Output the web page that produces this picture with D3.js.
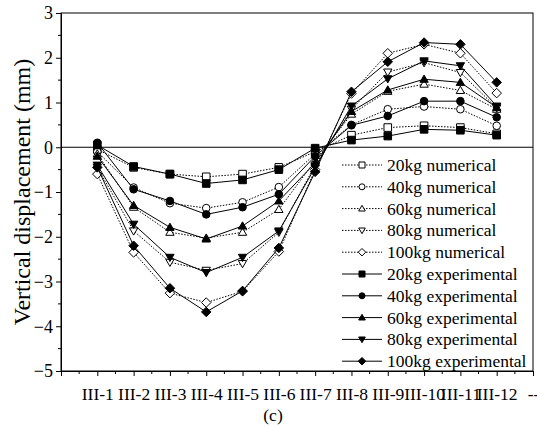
<!DOCTYPE html>
<html>
<head>
<meta charset="utf-8">
<script src="https://cdn.jsdelivr.net/npm/d3@7"></script>
<style>
  body { margin: 0; background: #fff; }
</style>
</head>
<body>
<svg id="chart" width="537" height="427"></svg>
<script>
// sensor positions along the line
var categories = ["III-1", "III-2", "III-3", "III-4", "III-5", "III-6", "III-7", "III-8", "III-9", "III-10", "III-11", "III-12", "--"];
var yTicks = [-5, -4, -3, -2, -1, 0, 1, 2, 3];

// vertical displacement (mm), one value per point III-1 .. III-12
var num20  = [-0.05, -0.45, -0.60, -0.66, -0.60, -0.45, -0.10, 0.27, 0.44, 0.48, 0.44, 0.30];
var num40  = [-0.10, -0.90, -1.25, -1.36, -1.23, -0.89, -0.15, 0.50, 0.85, 0.91, 0.85, 0.48];
var num60  = [-0.15, -1.34, -1.90, -2.03, -1.90, -1.39, -0.30, 0.74, 1.25, 1.41, 1.27, 0.85];
var num80  = [-0.45, -1.87, -2.57, -2.75, -2.60, -1.90, -0.40, 0.85, 1.68, 1.89, 1.67, 0.88];
var num100 = [-0.60, -2.35, -3.26, -3.47, -3.22, -2.33, -0.50, 1.20, 2.10, 2.30, 2.10, 1.21];
var exp20  = [0.05, -0.43, -0.60, -0.81, -0.73, -0.50, -0.02, 0.16, 0.25, 0.40, 0.38, 0.27];
var exp40  = [0.10, -0.94, -1.20, -1.50, -1.34, -1.05, -0.20, 0.49, 0.70, 1.03, 1.03, 0.67];
var exp60  = [-0.20, -1.30, -1.79, -2.05, -1.76, -1.20, -0.35, 0.80, 1.28, 1.52, 1.45, 0.89];
var exp80  = [-0.40, -1.72, -2.46, -2.80, -2.46, -1.87, -0.45, 0.92, 1.53, 1.93, 1.82, 0.92];
var exp100 = [-0.45, -2.20, -3.15, -3.68, -3.21, -2.25, -0.55, 1.24, 1.91, 2.34, 2.30, 1.45];

var series = [
    { name: "20kg numerical",     values: num20,  shape: "square",   filled: false },
    { name: "40kg numerical",     values: num40,  shape: "circle",   filled: false },
    { name: "60kg numerical",     values: num60,  shape: "triangle", filled: false },
    { name: "80kg numerical",     values: num80,  shape: "down",     filled: false },
    { name: "100kg numerical",    values: num100, shape: "diamond",  filled: false },
    { name: "20kg experimental",  values: exp20,  shape: "square",   filled: true },
    { name: "40kg experimental",  values: exp40,  shape: "circle",   filled: true },
    { name: "60kg experimental",  values: exp60,  shape: "triangle", filled: true },
    { name: "80kg experimental",  values: exp80,  shape: "down",     filled: true },
    { name: "100kg experimental", values: exp100, shape: "diamond",  filled: true }
];

var FONT = "'Liberation Serif', 'Times New Roman', Times, serif";
var plot = { left: 61, right: 533, top: 13, bottom: 371 };

var svg = d3.select("#chart");

var x = d3.scaleLinear().domain([0, categories.length]).range([plot.left, plot.right]);
var y = d3.scaleLinear().domain([-5, 3]).range([plot.bottom, plot.top]);

// marker paths, r = half size
var marker = function(shape, r) {
    if (shape === "square") {
        return "M" + (-r) + "," + (-r) + "h" + 2 * r + "v" + 2 * r + "h" + (-2 * r) + "Z";
    }
    if (shape === "circle") {
        return "M" + r + ",0A" + r + "," + r + " 0 1,1 " + (-r) + ",0A" + r + "," + r + " 0 1,1 " + r + ",0Z";
    }
    if (shape === "triangle") {
        return "M0," + (-r * 1.1) + "L" + (r * 1.1) + "," + (r * 0.8) + "L" + (-r * 1.1) + "," + (r * 0.8) + "Z";
    }
    if (shape === "down") {
        return "M0," + (r * 1.1) + "L" + (r * 1.1) + "," + (-r * 0.8) + "L" + (-r * 1.1) + "," + (-r * 0.8) + "Z";
    }
    // diamond
    var d = r * 1.25;
    return "M0," + (-d) + "L" + d + ",0L0," + d + "L" + (-d) + ",0Z";
};

// zero line
svg.append("line")
    .attr("x1", plot.left).attr("x2", plot.right)
    .attr("y1", y(0)).attr("y2", y(0))
    .attr("stroke", "#000").attr("stroke-width", 1);

// frame (top and right)
svg.append("rect")
    .attr("x", plot.left).attr("y", plot.top)
    .attr("width", plot.right - plot.left).attr("height", plot.bottom - plot.top)
    .attr("fill", "none").attr("stroke", "#000").attr("stroke-width", 1);

// y axis
var yAxis = d3.axisLeft(y).tickValues(yTicks).tickSize(5).tickPadding(3).tickFormat(d3.format("d"));
var gy = svg.append("g")
    .attr("transform", "translate(" + plot.left + ",0)")
    .call(yAxis)
    .attr("font-family", FONT)
    .attr("font-size", 18);
gy.select(".domain").attr("stroke", "#000");
gy.selectAll(".minor")
    .data(d3.range(-4.5, 3, 1))
    .enter().append("line")
    .attr("class", "minor")
    .attr("x1", 0).attr("x2", -3)
    .attr("y1", function(d) { return y(d); }).attr("y2", function(d) { return y(d); })
    .attr("stroke", "#000");

// x axis
var xAxis = d3.axisBottom(x)
    .tickValues(d3.range(1, categories.length + 1))
    .tickSize(5).tickPadding(12)
    .tickFormat(function(d) { return categories[d - 1]; });
var gx = svg.append("g")
    .attr("transform", "translate(0," + plot.bottom + ")")
    .call(xAxis)
    .attr("font-family", FONT)
    .attr("font-size", 17.5);
gx.select(".domain").attr("stroke", "#000");
gx.selectAll(".minor")
    .data(d3.range(0.5, categories.length, 1))
    .enter().append("line")
    .attr("class", "minor")
    .attr("y1", 0).attr("y2", 3)
    .attr("x1", function(d) { return x(d); }).attr("x2", function(d) { return x(d); })
    .attr("stroke", "#000");

// axis title and caption
svg.append("text")
    .attr("transform", "translate(30," + (plot.top + plot.bottom) / 2 + ") rotate(-90)")
    .attr("text-anchor", "middle")
    .attr("font-family", FONT)
    .attr("font-size", 24)
    .text("Vertical displacement (mm)");

svg.append("text")
    .attr("x", 273).attr("y", 421)
    .attr("text-anchor", "middle")
    .attr("font-family", FONT)
    .attr("font-size", 17.5)
    .text("(c)");

// lines and markers
var line = d3.line()
    .x(function(d, i) { return x(i + 1); })
    .y(function(d) { return y(d); });

var groups = svg.append("g").selectAll(".series")
    .data(series)
    .enter().append("g")
    .attr("class", "series");

groups.append("path")
    .attr("d", function(s) { return line(s.values); })
    .attr("fill", "none")
    .attr("stroke", "#000")
    .attr("stroke-width", 1)
    .attr("stroke-dasharray", function(s) { return s.filled ? null : "1.5,1.5"; });

groups.each(function(s) {
    d3.select(this).selectAll(".pt")
        .data(s.values)
        .enter().append("path")
        .attr("class", "pt")
        .attr("transform", function(d, i) { return "translate(" + x(i + 1) + "," + y(d) + ")"; })
        .attr("d", marker(s.shape, 3.8))
        .attr("fill", s.filled ? "#000" : "#fff")
        .attr("stroke", "#000")
        .attr("stroke-width", 1);
});

// legend
var legend = svg.append("g").selectAll(".legend")
    .data(series)
    .enter().append("g")
    .attr("class", "legend")
    .attr("transform", function(s, i) { return "translate(342," + (165 + i * 21.8) + ")"; });

legend.append("line")
    .attr("x1", 0).attr("x2", 40)
    .attr("stroke", "#000").attr("stroke-width", 1)
    .attr("stroke-dasharray", function(s) { return s.filled ? null : "1.5,1.5"; });

legend.append("path")
    .attr("transform", "translate(20,0)")
    .attr("d", function(s) { return marker(s.shape, 3); })
    .attr("fill", function(s) { return s.filled ? "#000" : "#fff"; })
    .attr("stroke", "#000");

legend.append("text")
    .attr("x", 45).attr("y", 6)
    .attr("font-family", FONT)
    .attr("font-size", 17.5)
    .text(function(s) { return s.name; });
</script>
</body>
</html>
